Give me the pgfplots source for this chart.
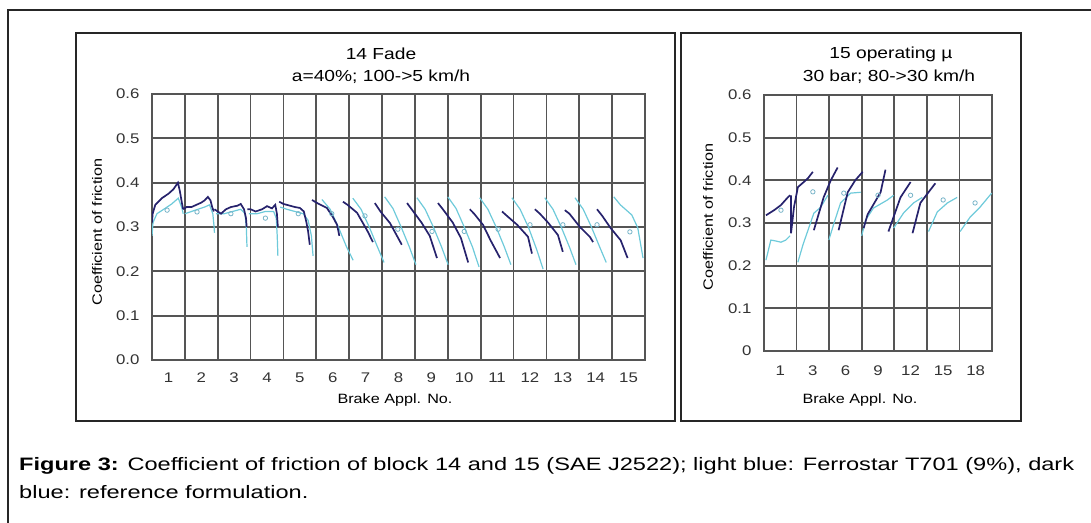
\documentclass[border=0pt]{standalone}
\usepackage{fontspec}
\setmainfont{Liberation Sans}[FakeStretch=1.2]
\newfontfamily\capfont{Liberation Sans}[FakeStretch=1.31]
\usepackage{pgfplots}
\pgfplotsset{compat=1.18}
\definecolor{darkb}{RGB}{38,34,108}
\definecolor{lightb}{RGB}{110,202,218}
\definecolor{gridc}{RGB}{85,85,85}
\definecolor{circc}{RGB}{120,180,200}
\pgfplotsset{
  panel/.style={
    scale only axis, anchor=south west,
    ymin=0, ymax=0.6,
    ytick={0,0.1,0.2,0.3,0.4,0.5,0.6},
    axis line style={gridc, line width=1.7pt},
    major tick length=0pt, minor tick length=0pt,
    ymajorgrids, xminorgrids,
    grid style={gridc, line width=1.7pt},
    minor grid style={gridc, line width=1.7pt},
    tick label style={font=\fontsize{14}{16}\selectfont, text=black!80},
    /pgf/number format/assume math mode=true,
    yticklabel style={xshift=-9pt},
  },
  dk/.style={darkb, line width=1.7pt, no marks},
  lt/.style={lightb, line width=1.2pt, no marks},
  mc/.style={only marks, mark=o, mark size=2.2pt, circc, mark options={line width=0.8pt}},
}
\begin{document}
\begin{tikzpicture}[x=1pt,y=1pt]
\path[use as bounding box] (0,0) rectangle (1091,522);
% outer frame
\draw[line width=2pt, black!85] (8,-5) -- (8,512) -- (1096,512);
% panel frames
\draw[line width=2.5pt, black!85] (76,489) rectangle (675,101);
\draw[line width=2.5pt, black!85] (681,489) rectangle (1021,101);

% ---------------- left panel ----------------
\begin{axis}[panel, at={(152pt,162pt)}, width=493pt, height=266pt,
  xmin=0.5, xmax=15.5, xtick={1,...,15},
  minor xtick={0.5,1.5,...,15.5},
  xticklabel style={yshift=-9pt},
  yticklabels={0.0,0.1,0.2,0.3,0.4,0.5,0.6}]
% light (Ferrostar)
\addplot[lt] coordinates {(0.5,0.28)(0.53,0.31)(0.65,0.33)(0.9,0.342)(1.1,0.352)(1.3,0.365)(1.4,0.345)(1.45,0.33)};
\addplot[lt] coordinates {(1.5,0.33)(1.7,0.335)(1.9,0.34)(2.1,0.345)(2.25,0.35)(2.35,0.33)(2.39,0.30)(2.4,0.287)};
\addplot[lt] coordinates {(2.45,0.33)(2.7,0.33)(2.95,0.335)(3.2,0.34)(3.33,0.33)(3.37,0.30)(3.39,0.255)};
\addplot[lt] coordinates {(3.45,0.33)(3.7,0.33)(3.95,0.335)(4.2,0.335)(4.28,0.32)(4.31,0.28)(4.33,0.235)};
\addplot[lt] coordinates {(4.4,0.345)(4.6,0.34)(4.85,0.335)(5.1,0.33)(5.25,0.315)(5.35,0.28)(5.4,0.235)};
\addplot[lt] coordinates {(5.67,0.362)(5.92,0.34)(6.17,0.30)(6.42,0.255)(6.62,0.225)};
\addplot[lt] coordinates {(6.61,0.365)(6.86,0.34)(7.11,0.30)(7.36,0.255)(7.56,0.22)};
\addplot[lt] coordinates {(7.58,0.368)(7.83,0.342)(8.08,0.30)(8.33,0.255)(8.53,0.215)};
\addplot[lt] coordinates {(8.56,0.366)(8.81,0.34)(9.06,0.30)(9.31,0.255)(9.51,0.215)};
\addplot[lt] coordinates {(9.50,0.368)(9.75,0.342)(10.00,0.30)(10.25,0.255)(10.45,0.21)};
\addplot[lt] coordinates {(10.47,0.366)(10.72,0.34)(10.97,0.30)(11.22,0.255)(11.42,0.215)};
\addplot[lt] coordinates {(11.45,0.366)(11.70,0.34)(11.95,0.30)(12.20,0.25)(12.40,0.205)};
\addplot[lt] coordinates {(12.45,0.366)(12.70,0.34)(12.95,0.30)(13.20,0.255)(13.40,0.215)};
\addplot[lt] coordinates {(13.37,0.366)(13.62,0.34)(13.87,0.30)(14.12,0.255)(14.32,0.22)};
\addplot[lt] coordinates {(14.55,0.368)(14.75,0.35)(15.1,0.327)(15.28,0.298)(15.44,0.23)};
% dark (reference)
\addplot[dk] coordinates {(0.5,0.31)(0.52,0.33)(0.6,0.35)(0.8,0.365)(1.0,0.375)(1.15,0.385)(1.29,0.40)(1.35,0.38)(1.42,0.35)(1.45,0.34)};
\addplot[dk] coordinates {(1.45,0.34)(1.55,0.345)(1.7,0.345)(1.85,0.35)(2.0,0.355)(2.1,0.36)(2.2,0.368)(2.28,0.36)(2.33,0.345)(2.38,0.335)};
\addplot[dk] coordinates {(2.4,0.34)(2.5,0.335)(2.6,0.33)(2.75,0.34)(2.9,0.345)(3.1,0.348)(3.2,0.352)(3.3,0.34)(3.36,0.32)(3.38,0.30)};
\addplot[dk] coordinates {(3.4,0.34)(3.5,0.34)(3.65,0.335)(3.85,0.34)(4.0,0.347)(4.15,0.342)(4.25,0.35)(4.3,0.33)(4.33,0.30)};
\addplot[dk] coordinates {(4.37,0.357)(4.5,0.352)(4.7,0.348)(4.85,0.345)(5.0,0.343)(5.12,0.335)(5.2,0.31)(5.25,0.29)(5.3,0.26)};
\addplot[dk] coordinates {(5.37,0.361)(5.5,0.355)(5.82,0.343)(6.0,0.323)(6.13,0.305)(6.2,0.28)};
\addplot[dk] coordinates {(6.31,0.357)(6.45,0.35)(6.74,0.332)(7.07,0.289)(7.22,0.266)};
\addplot[dk] coordinates {(7.28,0.354)(7.45,0.335)(7.74,0.309)(8.1,0.26)};
\addplot[dk] coordinates {(8.26,0.354)(8.4,0.34)(8.7,0.31)(8.95,0.28)(9.17,0.23)};
\addplot[dk] coordinates {(9.20,0.354)(9.35,0.34)(9.65,0.31)(9.9,0.275)(10.12,0.22)};
\addplot[dk] coordinates {(10.17,0.34)(10.3,0.33)(10.57,0.305)(10.8,0.27)(11.09,0.23)};
\addplot[dk] coordinates {(11.15,0.335)(11.3,0.325)(11.61,0.305)(11.94,0.278)(12.06,0.24)};
\addplot[dk] coordinates {(12.15,0.34)(12.3,0.33)(12.55,0.31)(12.85,0.282)(13.0,0.244)};
\addplot[dk] coordinates {(13.06,0.338)(13.2,0.33)(13.52,0.30)(13.82,0.278)(13.92,0.266)};
\addplot[dk] coordinates {(14.04,0.34)(14.2,0.325)(14.45,0.298)(14.76,0.27)(14.97,0.23)};
% mean values
\addplot[mc] coordinates {(0.96,0.338)(1.87,0.334)(2.9,0.33)(3.95,0.32)(4.95,0.33)(5.97,0.33)(6.98,0.325)(7.98,0.295)(9.02,0.29)(10.0,0.29)(11.03,0.295)(12.0,0.305)(13.0,0.305)(14.04,0.305)(15.04,0.289)};
\end{axis}

% ---------------- right panel ----------------
\begin{axis}[panel, at={(764pt,171pt)}, width=228pt, height=256pt,
  xmin=0.5, xmax=7.5, xtick={1,...,7},
  xticklabels={1,3,6,9,12,15,18},
  minor xtick={0.5,1.5,...,7.5},
  xticklabel style={yshift=-11pt},
  yticklabels={0,0.1,0.2,0.3,0.4,0.5,0.6}]
\addplot[lt] coordinates {(0.56,0.213)(0.71,0.26)(0.85,0.258)(1.02,0.255)(1.17,0.26)(1.3,0.27)};
\addplot[lt] coordinates {(1.54,0.208)(1.7,0.25)(1.85,0.283)(2.03,0.323)(2.24,0.337)(2.46,0.365)};
\addplot[lt] coordinates {(2.49,0.26)(2.65,0.30)(2.85,0.347)(3.16,0.37)(3.47,0.372)};
\addplot[lt] coordinates {(3.5,0.27)(3.62,0.307)(3.86,0.335)(4.29,0.354)(4.48,0.365)};
\addplot[lt] coordinates {(4.48,0.288)(4.78,0.323)(5.09,0.347)(5.36,0.36)};
\addplot[lt] coordinates {(5.55,0.28)(5.82,0.326)(6.13,0.347)(6.43,0.36)};
\addplot[lt] coordinates {(6.52,0.28)(6.83,0.314)(7.13,0.337)(7.49,0.37)};
\addplot[dk] coordinates {(0.56,0.318)(0.81,0.33)(1.02,0.342)(1.23,0.36)(1.3,0.365)};
\addplot[dk] coordinates {(1.33,0.365)(1.33,0.276)(1.42,0.337)(1.54,0.384)(1.72,0.396)(1.85,0.405)(2.0,0.42)};
\addplot[dk] coordinates {(2.03,0.283)(2.33,0.36)(2.55,0.40)(2.76,0.43)};
\addplot[dk] coordinates {(2.79,0.283)(3.07,0.372)(3.3,0.40)(3.53,0.42)};
\addplot[dk] coordinates {(3.56,0.288)(3.68,0.32)(4.08,0.372)(4.23,0.425)};
\addplot[dk] coordinates {(4.32,0.28)(4.69,0.36)(5.0,0.396)};
\addplot[dk] coordinates {(5.06,0.276)(5.3,0.347)(5.76,0.393)};
\addplot[mc] coordinates {(1.02,0.33)(2.0,0.373)(2.95,0.37)(4.0,0.365)(5.0,0.365)(6.0,0.354)(6.98,0.347)};
\end{axis}

% ---------------- texts ----------------
\node[anchor=base, font=\fontsize{16}{18}\selectfont] at (381,462) {14 Fade};
\node[anchor=base, font=\fontsize{16}{18}\selectfont] at (381,440) {a=40\%; 100->5 km/h};
\node[anchor=base, font=\fontsize{16}{18}\selectfont] at (891,463) {15 operating µ};
\node[anchor=base, font=\fontsize{16}{18}\selectfont] at (889,440) {30 bar; 80->30 km/h};
\node[rotate=90, font=\fontsize{13.5}{16}\selectfont] at (97,290) {Coefficient of friction};
\node[rotate=90, font=\fontsize{13.5}{16}\selectfont] at (708,305) {Coefficient of friction};
\node[anchor=base, font=\fontsize{13.5}{16}\selectfont] at (395,118) {Brake Appl. No.};
\node[anchor=base, font=\fontsize{13.5}{16}\selectfont] at (860,118) {Brake Appl. No.};
\node[anchor=base west, inner sep=0pt, font=\capfont\fontsize{18}{20}\selectfont] at (19,52) {\textbf{Figure 3:} Coefficient of friction of block 14 and 15 (SAE J2522); light blue: Ferrostar T701 (9\%), dark};
\node[anchor=base west, inner sep=0pt, font=\capfont\fontsize{18}{20}\selectfont] at (19,24) {blue: reference formulation.};
\end{tikzpicture}
\end{document}
